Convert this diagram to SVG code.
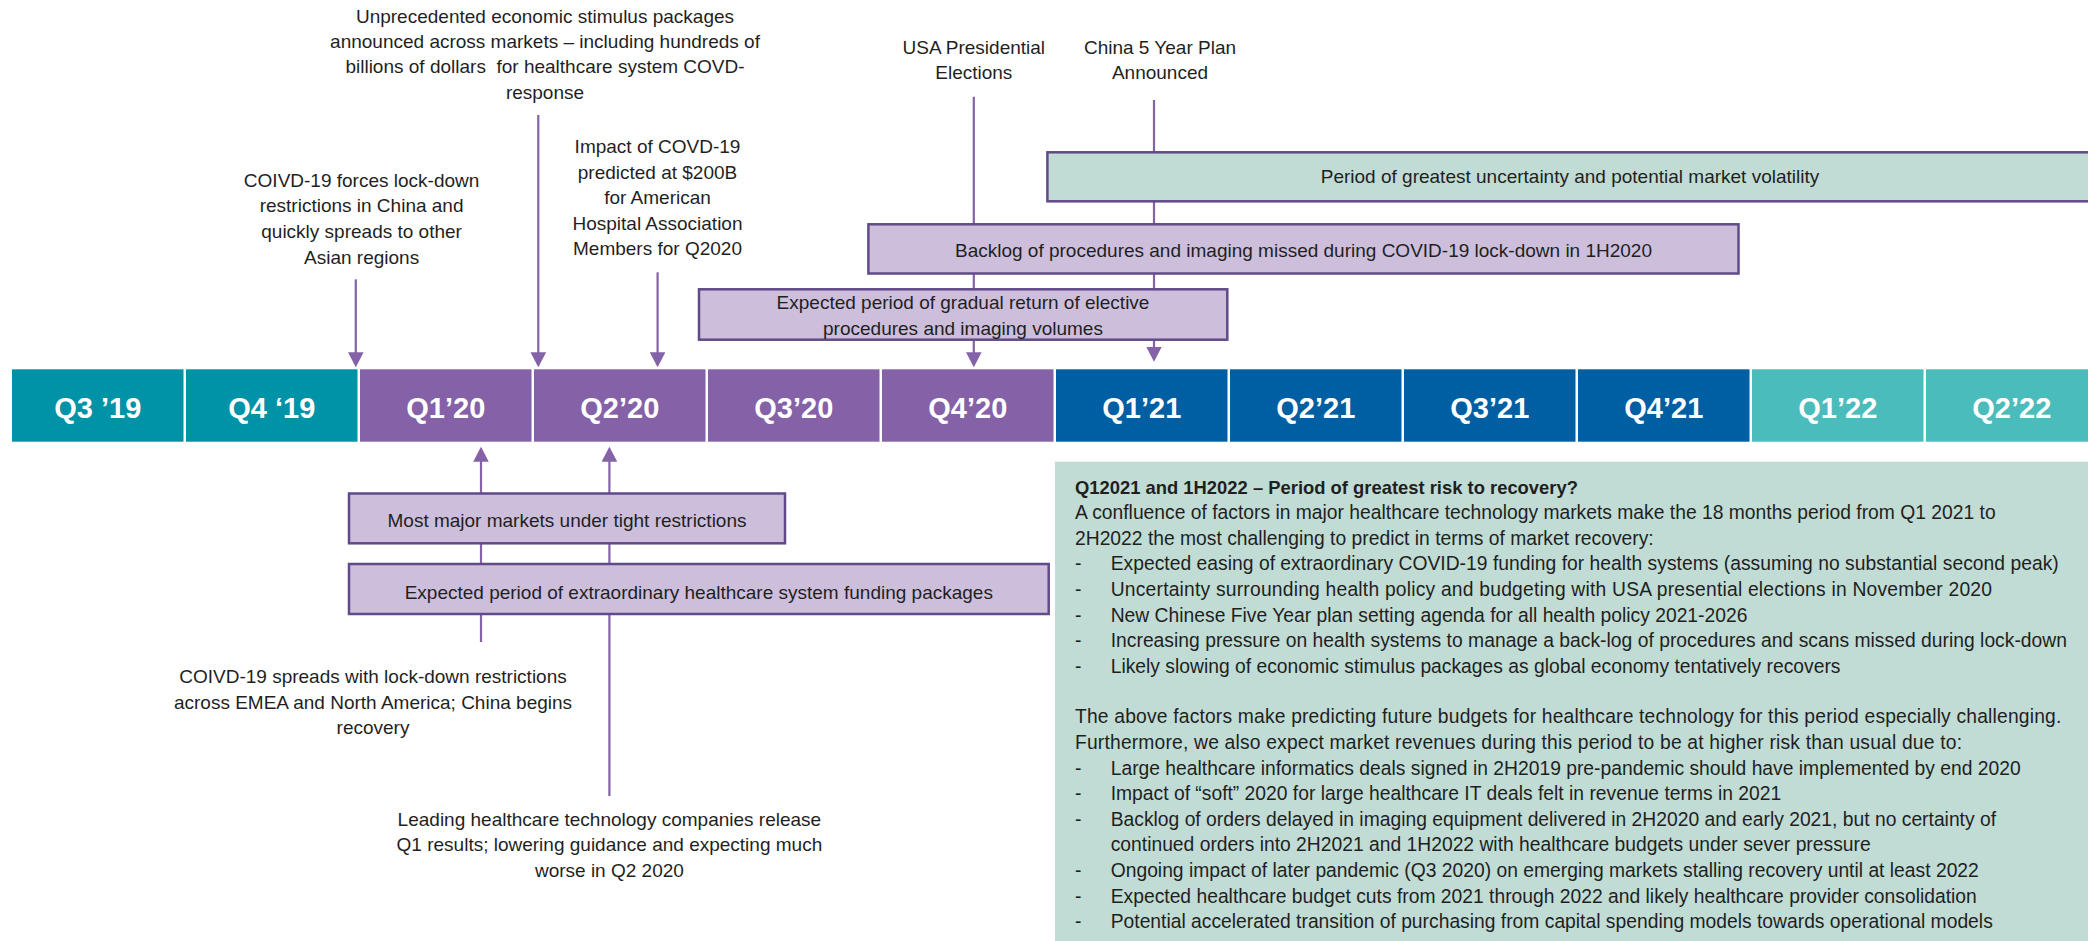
<svg xmlns="http://www.w3.org/2000/svg" width="2088" height="941" viewBox="0 0 2088 941">
<style>
.t{font-family:"Liberation Sans",Arial,sans-serif;font-size:19px;fill:#1f1f1f}
.c{text-anchor:middle}
.p{font-family:"Liberation Sans",Arial,sans-serif;font-size:19.3px;fill:#1f1f1f}
.pb{font-family:"Liberation Sans",Arial,sans-serif;font-size:18.4px;font-weight:bold;fill:#1f1f1f}
.lbl{font-family:"Liberation Sans",Arial,sans-serif;font-size:29px;font-weight:bold;fill:#ffffff;text-anchor:middle}
.box{fill:#cdbedc;stroke:#604a88;stroke-width:2.5}
.gbox{fill:#c0dcd5;stroke:#604a88;stroke-width:2.5}
.panel{fill:#c0dcd5}
.teal{fill:#0092a6}
.purp{fill:#8561a7}
.blue{fill:#005ea3}
.lteal{fill:#4abcbb}
.conn line{stroke:#8462a7;stroke-width:2.2;fill:none}
.arr{marker-end:url(#ah)}
</style>
<defs>
<marker id="ah" markerUnits="userSpaceOnUse" viewBox="0 0 15 15.6" refX="11" refY="7.8" markerWidth="15" markerHeight="15.6" orient="auto">
<path d="M0,0 L15,7.8 L0,15.6 Z" fill="#8462a7"/>
</marker>
</defs>
<rect width="2088" height="941" fill="#ffffff"/>

<g id="connectors" class="conn">
<line class="arr" x1="355.8" y1="279.3" x2="355.8" y2="363.3"/>
<line class="arr" x1="538.3" y1="115" x2="538.3" y2="363.3"/>
<line class="arr" x1="657.6" y1="272.3" x2="657.6" y2="363.3"/>
<line class="arr" x1="973.8" y1="96.7" x2="973.8" y2="363.3"/>
<line class="arr" x1="1154" y1="100" x2="1154" y2="357.7"/>
<line class="arr" x1="481" y1="642" x2="481" y2="450.7"/>
<line class="arr" x1="609.4" y1="796" x2="609.4" y2="450.7"/>
</g>

<g id="timeline">
<g id="q3-19"><rect class="teal" x="12" y="369.3" width="171.5" height="72.4"/><text class="lbl" x="97.8" y="418">Q3 ’19</text></g>
<g id="q4-19"><rect class="teal" x="186" y="369.3" width="171.5" height="72.4"/><text class="lbl" x="271.8" y="418">Q4 ‘19</text></g>
<g id="q1-20"><rect class="purp" x="360" y="369.3" width="171.5" height="72.4"/><text class="lbl" x="445.8" y="418">Q1’20</text></g>
<g id="q2-20"><rect class="purp" x="534" y="369.3" width="171.5" height="72.4"/><text class="lbl" x="619.8" y="418">Q2’20</text></g>
<g id="q3-20"><rect class="purp" x="708" y="369.3" width="171.5" height="72.4"/><text class="lbl" x="793.8" y="418">Q3’20</text></g>
<g id="q4-20"><rect class="purp" x="882" y="369.3" width="171.5" height="72.4"/><text class="lbl" x="967.8" y="418">Q4’20</text></g>
<g id="q1-21"><rect class="blue" x="1056" y="369.3" width="171.5" height="72.4"/><text class="lbl" x="1141.8" y="418">Q1’21</text></g>
<g id="q2-21"><rect class="blue" x="1230" y="369.3" width="171.5" height="72.4"/><text class="lbl" x="1315.8" y="418">Q2’21</text></g>
<g id="q3-21"><rect class="blue" x="1404" y="369.3" width="171.5" height="72.4"/><text class="lbl" x="1489.8" y="418">Q3’21</text></g>
<g id="q4-21"><rect class="blue" x="1578" y="369.3" width="171.5" height="72.4"/><text class="lbl" x="1663.8" y="418">Q4’21</text></g>
<g id="q1-22"><rect class="lteal" x="1752" y="369.3" width="171.5" height="72.4"/><text class="lbl" x="1837.8" y="418">Q1’22</text></g>
<g id="q2-22"><rect class="lteal" x="1926" y="369.3" width="171.5" height="72.4"/><text class="lbl" x="2011.8" y="418">Q2’22</text></g>
</g>

<g id="note-stimulus">
<text class="t c" x="545" y="22.5">Unprecedented economic stimulus packages</text>
<text class="t c" x="545" y="47.9">announced across markets – including hundreds of</text>
<text class="t c" x="545" y="73.3" xml:space="preserve">billions of dollars  for healthcare system COVD-</text>
<text class="t c" x="545" y="98.7">response</text>
</g>
<g id="note-china-lockdown">
<text class="t c" x="361.6" y="186.7">COIVD-19 forces lock-down</text>
<text class="t c" x="361.6" y="212.3">restrictions in China and</text>
<text class="t c" x="361.6" y="237.9">quickly spreads to other</text>
<text class="t c" x="361.6" y="263.5">Asian regions</text>
</g>
<g id="note-impact">
<text class="t c" x="657.5" y="153.3">Impact of COVD-19</text>
<text class="t c" x="657.5" y="178.7">predicted at $200B</text>
<text class="t c" x="657.5" y="204.1">for American</text>
<text class="t c" x="657.5" y="229.5">Hospital Association</text>
<text class="t c" x="657.5" y="254.9">Members for Q2020</text>
</g>
<g id="note-usa">
<text class="t c" x="973.8" y="54.3">USA Presidential</text>
<text class="t c" x="973.8" y="79">Elections</text>
</g>
<g id="note-china-plan">
<text class="t c" x="1160" y="54.3">China 5 Year Plan</text>
<text class="t c" x="1160" y="79">Announced</text>
</g>

<g id="box-uncertainty">
<rect class="gbox" x="1047.4" y="152.3" width="1100" height="49"/>
<text class="t c" x="1570" y="183.4">Period of greatest uncertainty and potential market volatility</text>
</g>
<g id="box-backlog">
<rect class="box" x="868.4" y="224.3" width="870.1" height="49.2"/>
<text class="t c" x="1303.5" y="256.7">Backlog of procedures and imaging missed during COVID-19 lock-down in 1H2020</text>
</g>
<g id="box-gradual">
<rect class="box" x="699" y="289.3" width="528.3" height="50.4"/>
<text class="t c" x="963" y="309.4">Expected period of gradual return of elective</text>
<text class="t c" x="963" y="335">procedures and imaging volumes</text>
</g>

<g id="box-restrictions">
<rect class="box" x="349" y="493.5" width="436" height="49.8"/>
<text class="t c" x="567" y="526.5">Most major markets under tight restrictions</text>
</g>
<g id="box-funding">
<rect class="box" x="349" y="564" width="699.7" height="50"/>
<text class="t c" x="698.8" y="598.5">Expected period of extraordinary healthcare system funding packages</text>
</g>

<g id="note-emea">
<text class="t c" x="373" y="683">COIVD-19 spreads with lock-down restrictions</text>
<text class="t c" x="373" y="708.5">across EMEA and North America; China begins</text>
<text class="t c" x="373" y="734">recovery</text>
</g>
<g id="note-results">
<text class="t c" x="609.4" y="825.5">Leading healthcare technology companies release</text>
<text class="t c" x="609.4" y="851">Q1 results; lowering guidance and expecting much</text>
<text class="t c" x="609.4" y="876.5">worse in Q2 2020</text>
</g>

<g id="panel-risk">
<rect class="panel" x="1055" y="461.7" width="1040" height="485"/>
<text class="pb" x="1075" y="493.5">Q12021 and 1H2022 – Period of greatest risk to recovery?</text>
<text class="p" x="1075" y="519.1">A confluence of factors in major healthcare technology markets make the 18 months period from Q1 2021 to</text>
<text class="p" x="1075" y="544.7">2H2022 the most challenging to predict in terms of market recovery:</text>
<text class="p" x="1075" y="570.3">-</text><text class="p" x="1110.7" y="570.3" textLength="948" lengthAdjust="spacing">Expected easing of extraordinary COVID-19 funding for health systems (assuming no substantial second peak)</text>
<text class="p" x="1075" y="595.9">-</text><text class="p" x="1110.7" y="595.9" textLength="881.3" lengthAdjust="spacing">Uncertainty surrounding health policy and budgeting with USA presential elections in November 2020</text>
<text class="p" x="1075" y="621.5">-</text><text class="p" x="1110.7" y="621.5">New Chinese Five Year plan setting agenda for all health policy 2021-2026</text>
<text class="p" x="1075" y="647.1">-</text><text class="p" x="1110.7" y="647.1" textLength="956.3" lengthAdjust="spacing">Increasing pressure on health systems to manage a back-log of procedures and scans missed during lock-down</text>
<text class="p" x="1075" y="672.7">-</text><text class="p" x="1110.7" y="672.7">Likely slowing of economic stimulus packages as global economy tentatively recovers</text>
<text class="p" x="1075" y="723.3" textLength="986.3" lengthAdjust="spacing">The above factors make predicting future budgets for healthcare technology for this period especially challenging.</text>
<text class="p" x="1075" y="748.9" textLength="887" lengthAdjust="spacing">Furthermore, we also expect market revenues during this period to be at higher risk than usual due to:</text>
<text class="p" x="1075" y="774.5">-</text><text class="p" x="1110.7" y="774.5">Large healthcare informatics deals signed in 2H2019 pre-pandemic should have implemented by end 2020</text>
<text class="p" x="1075" y="800.1">-</text><text class="p" x="1110.7" y="800.1">Impact of “soft” 2020 for large healthcare IT deals felt in revenue terms in 2021</text>
<text class="p" x="1075" y="825.7">-</text><text class="p" x="1110.7" y="825.7">Backlog of orders delayed in imaging equipment delivered in 2H2020 and early 2021, but no certainty of</text>
<text class="p" x="1110.7" y="851.3">continued orders into 2H2021 and 1H2022 with healthcare budgets under sever pressure</text>
<text class="p" x="1075" y="876.9">-</text><text class="p" x="1110.7" y="876.9">Ongoing impact of later pandemic (Q3 2020) on emerging markets stalling recovery until at least 2022</text>
<text class="p" x="1075" y="902.5">-</text><text class="p" x="1110.7" y="902.5">Expected healthcare budget cuts from 2021 through 2022 and likely healthcare provider consolidation</text>
<text class="p" x="1075" y="928.1">-</text><text class="p" x="1110.7" y="928.1">Potential accelerated transition of purchasing from capital spending models towards operational models</text>
</g>
</svg>
